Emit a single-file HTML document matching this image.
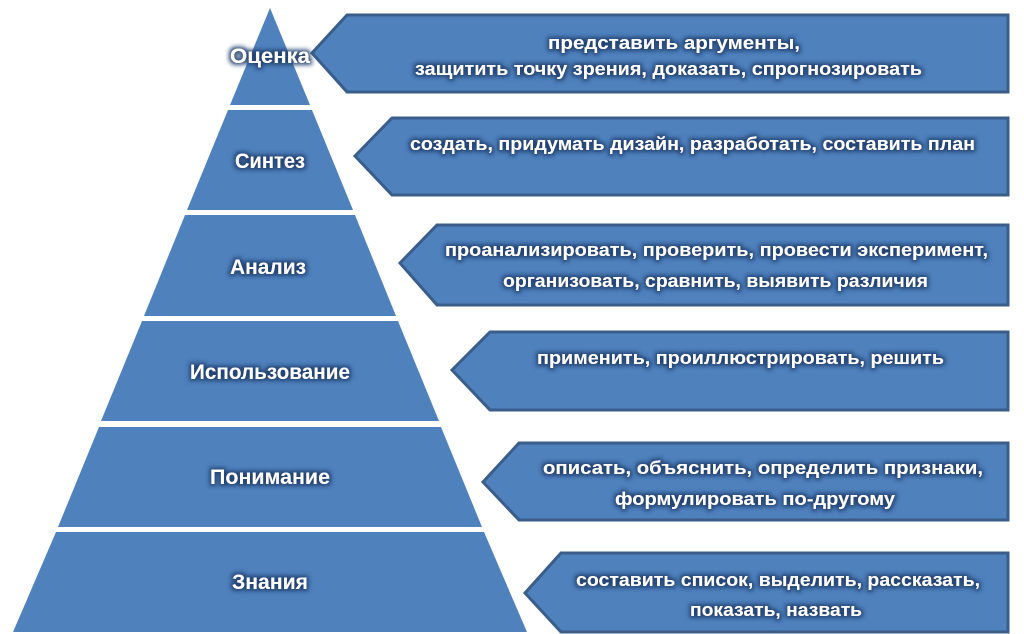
<!DOCTYPE html>
<html><head><meta charset="utf-8"><style>
html,body{margin:0;padding:0;background:#fff;}
svg{display:block;}
text{font-family:"Liberation Sans",sans-serif;font-weight:bold;fill:#fff;}
.l{font-size:21px;}
.b{font-size:18.5px;}
</style></head><body>
<svg width="1024" height="634" viewBox="0 0 1024 634" xmlns="http://www.w3.org/2000/svg">
<defs>
<filter id="g" x="-20%" y="-50%" width="140%" height="200%">
<feMorphology in="SourceAlpha" operator="dilate" radius="2" result="d"/>
<feGaussianBlur in="d" stdDeviation="2" result="bl"/>
<feFlood flood-color="#1f3f6e" flood-opacity="0.9"/>
<feComposite in2="bl" operator="in" result="s"/>
<feMerge><feMergeNode in="s"/><feMergeNode in="SourceGraphic"/></feMerge>
</filter>
</defs>
<g fill="#4f81bd">
<polygon points="270,8 310,105 230,105"/>
<polygon points="228,110 312,110 353,210 187,210"/>
<polygon points="185,215 355,215 396,316 144,316"/>
<polygon points="142,321 398,321 439,421 101,421"/>
<polygon points="99,427 441,427 482,527 58,527"/>
<polygon points="56,532 484,532 527,632 13,632"/>
</g>
<g fill="#4f81bd" stroke="#3a5d8a" stroke-width="3">
<polygon points="312,53 347,15 1008,15 1008,92 347,92"/>
<polygon points="355,156 392,118 1008,118 1008,195 392,195"/>
<polygon points="400,263 437,225 1008,225 1008,305 437,305"/>
<polygon points="452,370 490,332 1008,332 1008,410 490,410"/>
<polygon points="483,482 519,443 1008,443 1008,520 519,520"/>
<polygon points="525,593 561,553 1008,553 1008,632 561,632"/>
</g>
<g class="l" text-anchor="middle" filter="url(#g)">
<text x="270" y="63" textLength="80" lengthAdjust="spacingAndGlyphs">Оценка</text>
<text x="270" y="168" textLength="70" lengthAdjust="spacingAndGlyphs">Синтез</text>
<text x="268" y="274" textLength="76" lengthAdjust="spacingAndGlyphs">Анализ</text>
<text x="270" y="379" textLength="160" lengthAdjust="spacingAndGlyphs">Использование</text>
<text x="270" y="484" textLength="120" lengthAdjust="spacingAndGlyphs">Понимание</text>
<text x="270" y="589" textLength="76" lengthAdjust="spacingAndGlyphs">Знания</text>
</g>
<g class="b" filter="url(#g)">
<text x="548" y="49" textLength="252" lengthAdjust="spacingAndGlyphs">представить аргументы,</text>
<text x="415" y="75" textLength="507" lengthAdjust="spacingAndGlyphs">защитить точку зрения, доказать, спрогнозировать</text>
<text x="410" y="150" textLength="565" lengthAdjust="spacingAndGlyphs">создать, придумать дизайн, разработать, составить план</text>
<text x="445" y="256" textLength="543" lengthAdjust="spacingAndGlyphs">проанализировать, проверить, провести эксперимент,</text>
<text x="503" y="287" textLength="425" lengthAdjust="spacingAndGlyphs">организовать, сравнить, выявить различия</text>
<text x="537" y="364" textLength="407" lengthAdjust="spacingAndGlyphs">применить, проиллюстрировать, решить</text>
<text x="543" y="474" textLength="440" lengthAdjust="spacingAndGlyphs">описать, объяснить, определить признаки,</text>
<text x="615" y="505" textLength="280" lengthAdjust="spacingAndGlyphs">формулировать по-другому</text>
<text x="576" y="586" textLength="404" lengthAdjust="spacingAndGlyphs">составить список, выделить, рассказать,</text>
<text x="690" y="616" textLength="172" lengthAdjust="spacingAndGlyphs">показать, назвать</text>
</g>
</svg>
</body></html>
